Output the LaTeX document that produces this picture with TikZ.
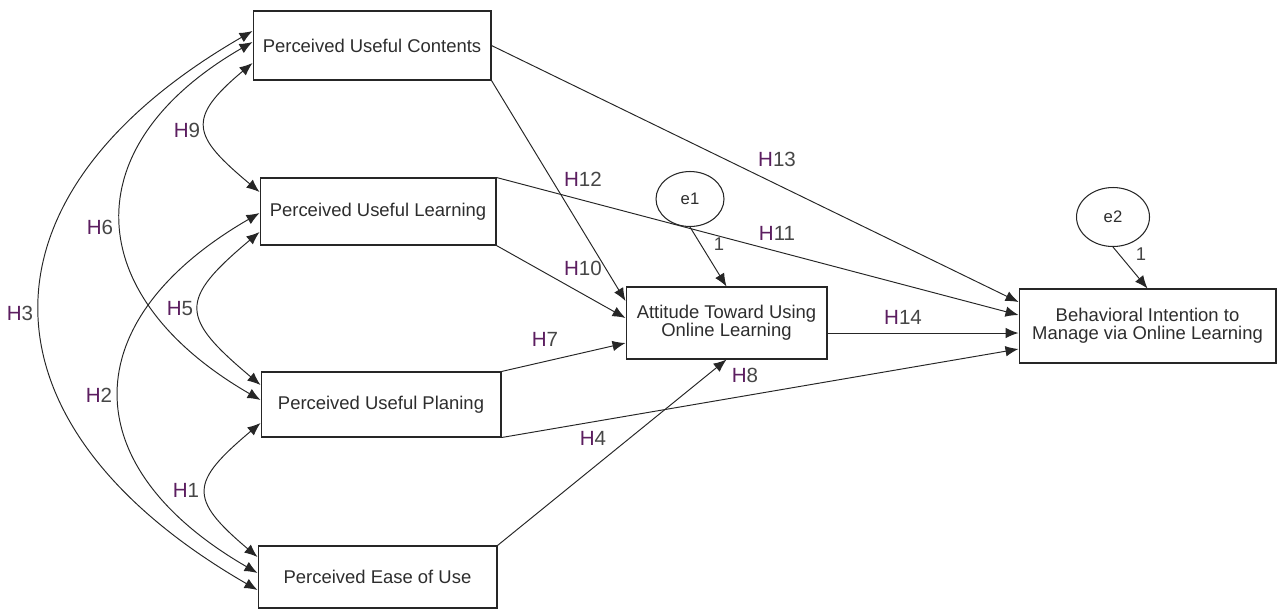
\documentclass[tikz,border=0pt]{standalone}
\usepackage{fontspec}
\setmainfont{Liberation Sans}
\usetikzlibrary{arrows.meta,calc,shapes.geometric}
\definecolor{hpurple}{RGB}{92,30,96}
\definecolor{numgray}{RGB}{70,70,70}
\definecolor{txtgray}{RGB}{45,45,45}
\newcommand{\hyp}[1]{\textcolor{hpurple}{H}\textcolor{numgray}{#1}}
\begin{document}
\begin{tikzpicture}[x=0.02cm,y=-0.02cm,
 box/.style={draw=black!85,line width=0.6pt,text=txtgray,align=center,inner sep=0pt,font=\fontsize{10.5}{10.4}\selectfont},
 err/.style={draw=black!85,line width=0.6pt,ellipse,inner sep=0pt,text=txtgray,font=\fontsize{9.5}{10}\selectfont},
 lab/.style={font=\fontsize{11.7}{12}\selectfont},
 one/.style={text=numgray,font=\fontsize{10.5}{11}\selectfont},
 arr/.style={draw=black!85,line width=0.55pt,-{Latex[length=2.6mm,width=2.1mm]}},
 cov/.style={draw=black!85,line width=0.55pt,{Latex[length=2.6mm,width=2.1mm]}-{Latex[length=2.6mm,width=2.1mm]}}]
 \useasboundingbox (0,0) rectangle (1277,610);
 \node[box,minimum width=4.76cm,minimum height=1.38cm] (PUC) at (372,45.5) {Perceived Useful Contents};
 \node[box,minimum width=4.72cm,minimum height=1.34cm] (PUL) at (378,211.5) {Perceived Useful Learning};
 \node[box,minimum width=4.8cm,minimum height=1.3cm] (PUP) at (381,404.5) {Perceived Useful Planing};
 \node[box,minimum width=4.78cm,minimum height=1.24cm] (PEU) at (377.5,577) {Perceived Ease of Use};
 \node[box,minimum width=4.02cm,minimum height=1.44cm] (ATT) at (726.5,323) {Attitude Toward Using\\Online Learning};
 \node[box,minimum width=5.14cm,minimum height=1.48cm] (BI) at (1147.5,326) {Behavioral Intention to\\Manage via Online Learning};
 \node[err,minimum width=1.36cm,minimum height=1.1cm] (e1) at (690,199) {e1};
 \node[err,minimum width=1.46cm,minimum height=1.18cm] (e2) at (1113,217) {e2};
 \draw[cov] ($(PUC.west)+(0,-14.5)$) .. controls +(-286,165) and +(-286,-165) .. ($(PEU.west)+(0,13)$);
 \draw[cov] ($(PUC.west)+(0,-3.5)$) .. controls +(-180,104) and +(-180,-104) .. ($(PUP.west)+(0,-4.5)$);
 \draw[cov] ($(PUC.west)+(0,17.5)$) .. controls +(-67,56) and +(-67,-56) .. ($(PUL.west)+(0,-19.5)$);
 \draw[cov] ($(PUL.west)+(0,1.5)$) .. controls +(-185,107) and +(-185,-107) .. ($(PEU.west)+(0,-4)$);
 \draw[cov] ($(PUL.west)+(0,20.5)$) .. controls +(-81,68) and +(-81,-68) .. ($(PUP.west)+(0,-19.5)$);
 \draw[cov] ($(PUP.west)+(0,18.5)$) .. controls +(-70,59) and +(-70,-59) .. ($(PEU.west)+(0,-20)$);
 \draw[arr] (PUC.east) -- ($(BI.west)+(0,-24)$);
 \draw[arr] (PUC.south east) -- ($(ATT.west)+(0,-22)$);
 \draw[arr] (PUL.north east) -- ($(BI.west)+(0,-11)$);
 \draw[arr] (PUL.south east) -- ($(ATT.west)+(0,-5)$);
 \draw[arr] (PUP.north east) -- ($(ATT.west)+(0,20)$);
 \draw[arr] (PUP.south east) -- ($(BI.west)+(0,23)$);
 \draw[arr] (PEU.north east) -- (ATT.south);
 \draw[arr] ($(ATT.east)+(0,10)$) -- ($(BI.west)+(0,7)$);
 \draw[arr] (e1.south) -- (ATT.north);
 \draw[arr] (e2.south) -- (BI.north);
 \node[lab] (lH1) at (186,490) {\hyp{1}};
 \node[lab] (lH2) at (99,395) {\hyp{2}};
 \node[lab] (lH3) at (20,313) {\hyp{3}};
 \node[lab] (lH5) at (180,309) {\hyp{5}};
 \node[lab] (lH6) at (100,227) {\hyp{6}};
 \node[lab] (lH9) at (187,130) {\hyp{9}};
 \node[lab] (lH13) at (777,159) {\hyp{13}};
 \node[lab] (lH12) at (583,179) {\hyp{12}};
 \node[lab] (lH11) at (777,233) {\hyp{11}};
 \node[lab] (lH10) at (583,268) {\hyp{10}};
 \node[lab] (lH7) at (545,339) {\hyp{7}};
 \node[lab] (lH8) at (745,375) {\hyp{8}};
 \node[lab] (lH4) at (593,438) {\hyp{4}};
 \node[lab] (lH14) at (903,317) {\hyp{14}};
 \node[one] (l1a) at (719,244) {1};
 \node[one] (l1b) at (1141,254) {1};
\end{tikzpicture}
\end{document}
